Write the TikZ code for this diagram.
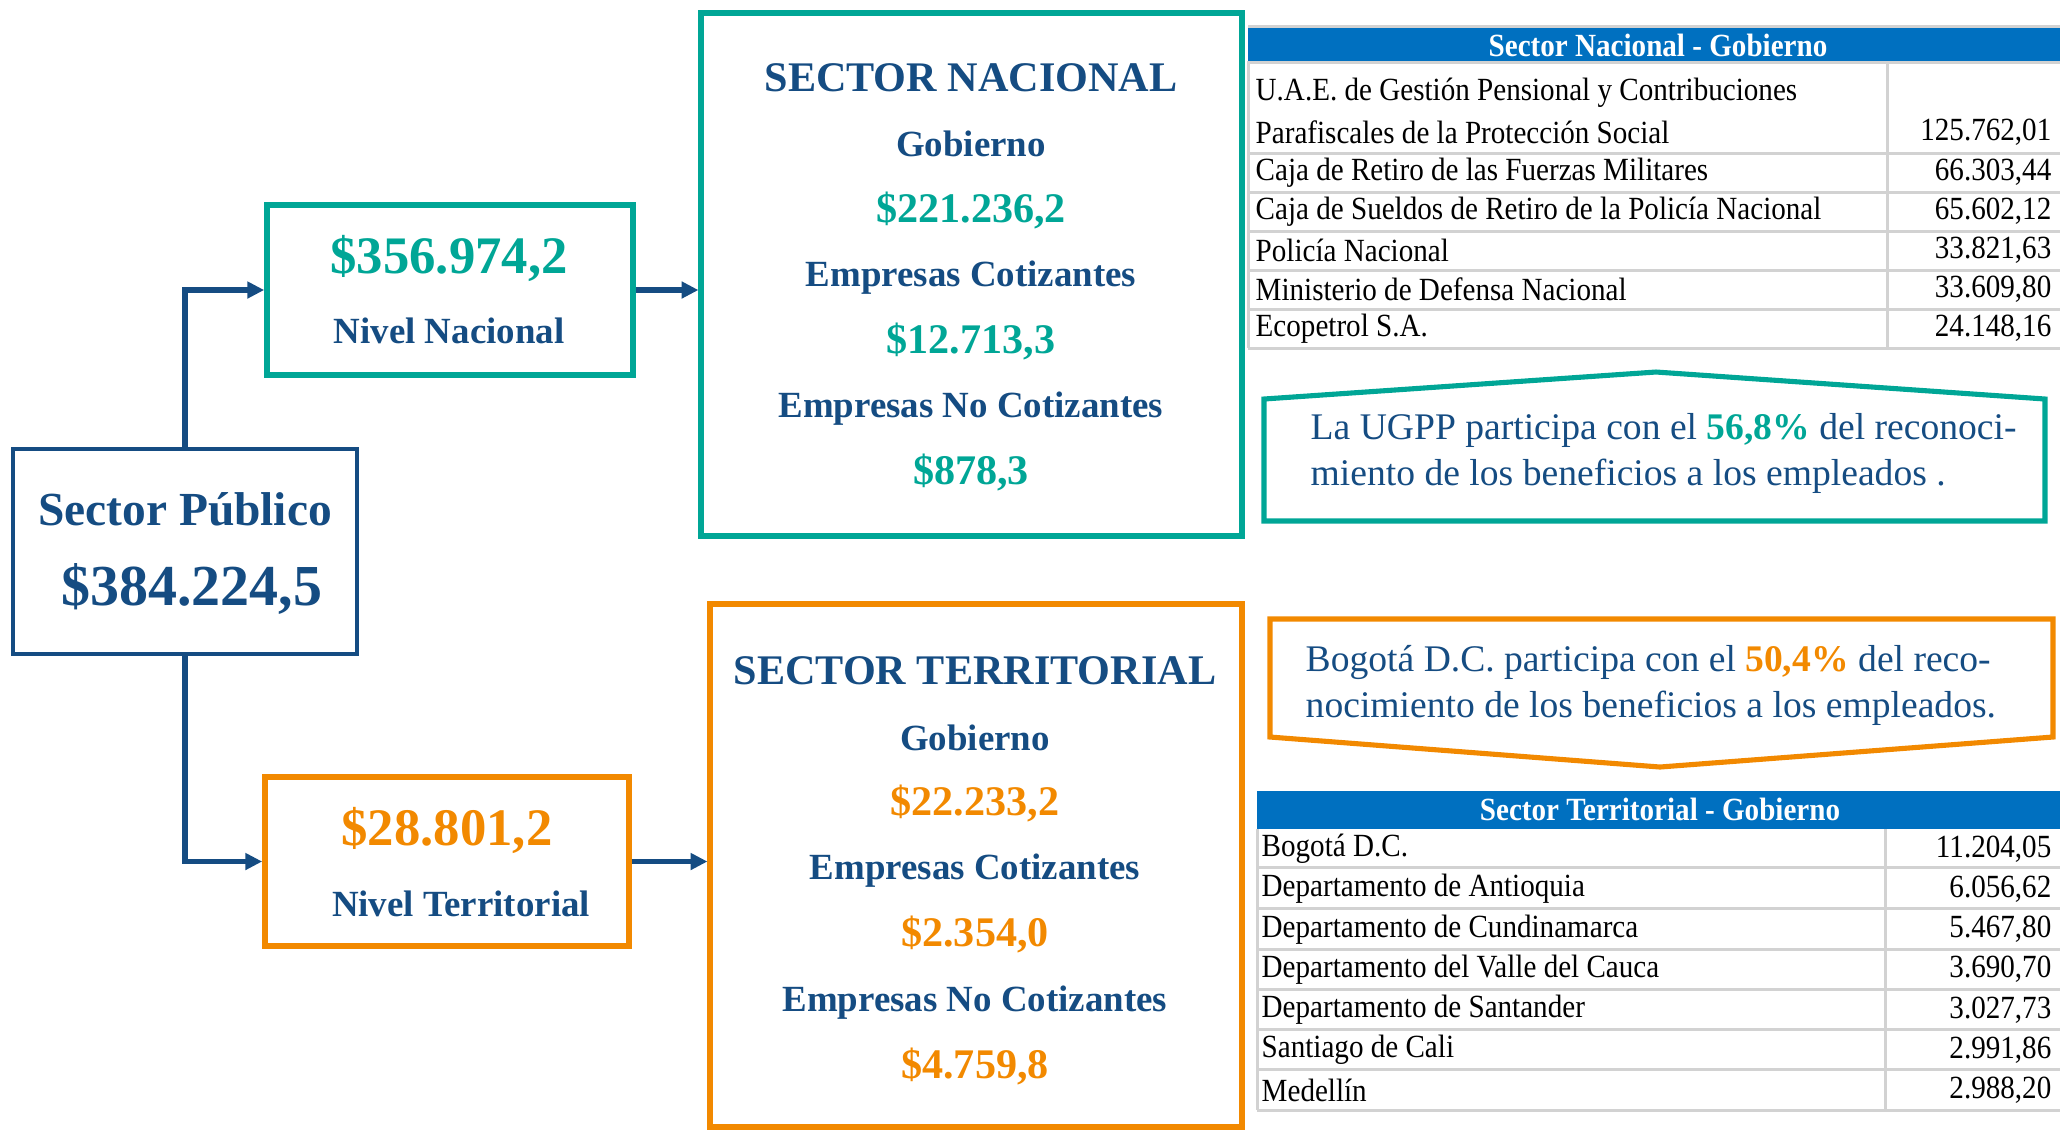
\documentclass[tikz,border=0pt]{standalone}
\usepackage{fontspec}
\setmainfont{Liberation Serif}
\newfontfamily\tabfont[FakeStretch=0.9]{Liberation Serif}
\usepackage{tikz}
\usetikzlibrary{arrows.meta}

\definecolor{azul}{RGB}{21,76,130}
\definecolor{verde}{RGB}{0,166,150}
\definecolor{naranja}{RGB}{242,137,0}
\definecolor{cabecera}{RGB}{0,112,192}
\definecolor{gris}{RGB}{210,210,210}
\newcommand{\tam}[1]{\fontsize{#1}{#1}\selectfont}

\begin{document}
\begin{tikzpicture}[x=1cm, y=-1cm, >={Triangle[length=4.8pt,width=4.6pt]},
  caja/.style={draw=#1, line width=1.6pt, inner sep=0pt},
  titulo/.style={text=azul, inner sep=0pt, font=\bfseries\tam{#1}},
  monto/.style={text=#1, inner sep=0pt, font=\bfseries\tam{12}},
  flecha/.style={draw=azul, line width=1.45pt, ->},
  celda/.style={inner sep=0pt, font=\tabfont\tam{9.2}},
  tabla/.style={draw=gris, line width=0.85pt},
  nota/.style={text=azul, inner sep=0pt, font=\tam{10.7}}]
  \path[use as bounding box] (0,0) rectangle (20.6,11.33);

%%%%%%%%%%%% Sector Publico y niveles
  \node[caja=azul, line width=1.2pt, minimum width=3.44cm, minimum height=2.05cm] (publico) at (1.85,5.515) {};
  \node[titulo=13.5] (publicoA) at (1.85,5.09) {Sector Público};
  \node[titulo=16.5] (publicoB) at (1.92,5.89) {\$384.224,5};

  \node[caja=verde, minimum width=3.66cm, minimum height=1.70cm] (nacional) at (4.50,2.90) {};
  \node[monto=verde, font=\bfseries\tam{15}] (nacionalA) at (4.49,2.58) {\$356.974,2};
  \node[titulo=10.5] (nacionalB) at (4.49,3.31) {Nivel Nacional};

  \node[caja=naranja, minimum width=3.64cm, minimum height=1.69cm] (territorial) at (4.47,8.615) {};
  \node[monto=naranja, font=\bfseries\tam{15}] (territorialA) at (4.47,8.30) {\$28.801,2};
  \node[titulo=10.5] (territorialB) at (4.61,9.04) {Nivel Territorial};

%%%%%%%%%%%% Sectores
  \node[caja=verde, line width=1.45pt, minimum width=5.41cm, minimum height=5.23cm] (secnal) at (9.715,2.745) {};
  \node[titulo=12] (secnal1) at (9.71,0.78) {SECTOR NACIONAL};
  \node[titulo=10.5] (secnal2) at (9.71,1.44) {Gobierno};
  \node[monto=verde] (secnal3) at (9.71,2.10) {\$221.236,2};
  \node[titulo=10.5] (secnal4) at (9.71,2.78) {Empresas Cotizantes};
  \node[monto=verde] (secnal5) at (9.71,3.41) {\$12.713,3};
  \node[titulo=10.5] (secnal6) at (9.71,4.09) {Empresas No Cotizantes};
  \node[monto=verde] (secnal7) at (9.71,4.72) {\$878,3};

  \node[caja=naranja, line width=1.45pt, minimum width=5.32cm, minimum height=5.23cm] (secter) at (9.76,8.655) {};
  \node[titulo=12] (secter1) at (9.75,6.71) {SECTOR TERRITORIAL};
  \node[titulo=10.5] (secter2) at (9.75,7.38) {Gobierno};
  \node[monto=naranja] (secter3) at (9.75,8.03) {\$22.233,2};
  \node[titulo=10.5] (secter4) at (9.75,8.71) {Empresas Cotizantes};
  \node[monto=naranja] (secter5) at (9.75,9.34) {\$2.354,0};
  \node[titulo=10.5] (secter6) at (9.75,10.03) {Empresas No Cotizantes};
  \node[monto=naranja] (secter7) at (9.75,10.66) {\$4.759,8};

  \draw[flecha] (publico.north) |- (nacional.west);
  \draw[flecha] (publico.south) |- (territorial.west);
  \draw[flecha] (nacional.east) -- (nacional.east -| secnal.west);
  \draw[flecha] (territorial.east) -- (territorial.east -| secter.west);

%%%%%%%%%%%% Tabla nacional
  \fill[cabecera] (12.48,0.27) rectangle (20.6,0.61);
  \node[celda, text=white, font=\tabfont\bfseries\tam{9.2}] (cabnal) at (16.58,0.45) {Sector Nacional - Gobierno};
  \draw[tabla] (12.48,0.26) -- (20.6,0.26);
  \draw[tabla] (12.48,0.625) -- (20.6,0.625);
  \foreach \y in {1.53,1.92,2.31,2.70,3.09,3.48} {
    \draw[tabla] (12.48,\y) -- (20.6,\y);
  }
  \draw[tabla] (12.48,0.61) -- (12.48,3.48);
  \draw[tabla] (18.87,0.61) -- (18.87,3.48);
  \node[celda, anchor=west] (nal0a) at (12.55,0.93) {U.A.E. de Gestión Pensional y Contribuciones};
  \node[celda, anchor=west] (nal0b) at (12.55,1.32) {Parafiscales de la Protección Social};
  \node[celda, anchor=east] (valnal0) at (20.52,1.32) {125.762,01};
  \foreach \nom/\val [count=\i] in {{Caja de Retiro de las Fuerzas Militares/{66.303,44}},
      {Caja de Sueldos de Retiro de la Policía Nacional/{65.602,12}},
      {Policía Nacional/{33.821,63}},
      {Ministerio de Defensa Nacional/{33.609,80}},
      {Ecopetrol S.A./{24.148,16}}} {
    \node[celda, anchor=west] (nal\i) at (12.55,{1.725+0.39*(\i-1)}) {\nom};
    \node[celda, anchor=east] (valnal\i) at (20.52,{1.725+0.39*(\i-1)}) {\val};
  }

%%%%%%%%%%%% Notas
  \draw[verde, line width=1.45pt] (12.64,5.21) -- (12.64,3.99) -- (16.56,3.72) -- (20.45,3.99) -- (20.45,5.21) -- cycle;
  \node[nota, anchor=west] (notanal1) at (13.10,4.30) {La UGPP participa con el {\bfseries\color{verde}56,8\%} del reconoci-};
  \node[nota, anchor=west] (notanal2) at (13.10,4.76) {miento de los beneficios a los empleados .};

  \draw[naranja, line width=1.45pt] (12.70,6.19) -- (20.53,6.19) -- (20.53,7.37) -- (16.60,7.67) -- (12.70,7.37) -- cycle;
  \node[nota, anchor=west] (notater1) at (13.05,6.62) {Bogotá D.C. participa con el {\bfseries\color{naranja}50,4\%} del reco-};
  \node[nota, anchor=west] (notater2) at (13.05,7.08) {nocimiento de los beneficios a los empleados.};

%%%%%%%%%%%% Tabla territorial
  \fill[cabecera] (12.57,7.91) rectangle (20.6,8.29);
  \node[celda, text=white, font=\tabfont\bfseries\tam{9.2}] (cabter) at (16.60,8.09) {Sector Territorial - Gobierno};
  \foreach \y in {8.67,9.08,9.49,9.89,10.29,10.69,11.10} {
    \draw[tabla] (12.57,\y) -- (20.6,\y);
  }
  \draw[tabla] (12.57,8.29) -- (12.57,11.10);
  \draw[tabla] (18.85,8.29) -- (18.85,11.10);
  \foreach \nom/\val [count=\i] in {{Bogotá D.C./{11.204,05}},
      {Departamento de Antioquia/{6.056,62}},
      {Departamento de Cundinamarca/{5.467,80}},
      {Departamento del Valle del Cauca/{3.690,70}},
      {Departamento de Santander/{3.027,73}},
      {Santiago de Cali/{2.991,86}},
      {Medellín/{2.988,20}}} {
    \node[celda, anchor=west] (ter\i) at (12.61,{8.49+0.402*(\i-1)}) {\nom};
    \node[celda, anchor=east] (valter\i) at (20.52,{8.49+0.402*(\i-1)}) {\val};
  }
\end{tikzpicture}
\end{document}
